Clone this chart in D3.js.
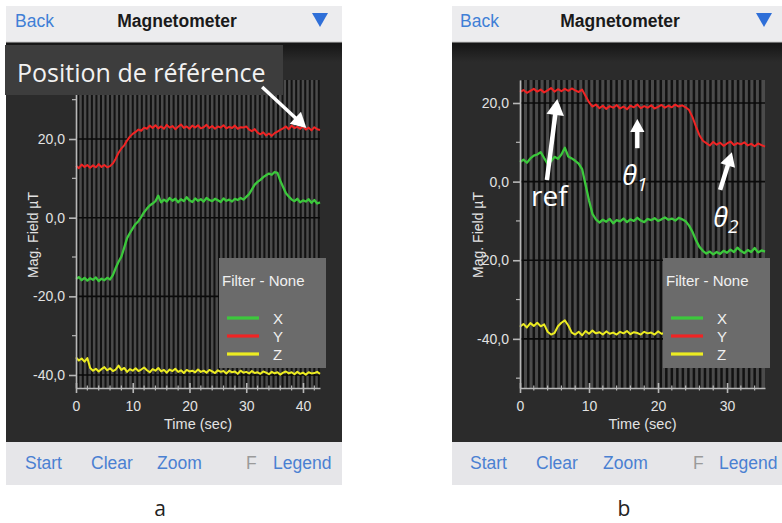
<!DOCTYPE html>
<html><head><meta charset="utf-8">
<script src="https://cdn.jsdelivr.net/npm/d3@7"></script>
<style>body{margin:0;background:#fff}</style>
</head><body><svg id="c" width="782" height="523"></svg>
<script>
// ---------------- DATA ----------------
const timeA = d3.range(0, 43.001, 0.5);
const xFieldA = [-15.6,-15.1,-15.9,-15.3,-16.0,-15.4,-15.8,-15.2,-16.1,-15.5,-15.9,-15.3,-15.7,
  -14.6,-12.8,-11.2,-9.9,-7.6,-5.2,-3.9,-2.7,-1.6,-0.9,0.2,1.4,2.3,3.1,
  3.6,4.2,5.6,3.9,4.6,4.1,5.0,4.3,4.8,3.9,4.7,4.2,5.2,4.4,4.0,4.9,4.3,4.7,4.1,5.0,4.5,4.2,4.8,4.4,4.0,4.9,4.3,4.6,4.1,4.8,4.5,5.0,4.6,5.3,
  6.0,7.2,8.4,9.1,9.6,10.3,10.8,11.2,10.9,11.6,11.4,9.4,
  7.8,6.2,5.4,4.6,4.2,4.8,3.9,4.4,4.1,4.7,3.8,4.5,3.6,3.9];
const yFieldA = [13.2,12.6,13.5,12.9,13.4,12.7,13.3,12.8,13.6,12.9,13.4,12.8,13.1,
  13.8,15.0,16.5,17.6,18.4,19.6,20.6,21.3,21.8,22.4,22.1,22.9,22.6,23.4,
  22.8,23.5,22.7,23.2,22.6,23.6,22.9,23.3,22.5,23.1,23.7,22.8,23.2,22.6,23.4,22.9,23.5,22.7,23.0,23.6,22.8,23.3,22.6,23.2,22.9,23.5,22.7,23.1,22.8,23.4,22.6,23.0,22.9,23.2,
  22.4,22.0,22.5,21.6,21.2,21.7,20.9,21.4,20.8,21.5,21.9,22.3,
  22.7,23.2,22.5,23.4,22.8,23.1,22.6,23.3,22.4,22.9,22.2,23.0,22.5,22.3];
const zFieldA = [-35.5,-36.3,-35.8,-36.6,-35.7,
  -38.2,-38.9,-38.4,-39.1,-38.5,-38.0,-38.8,-38.3,-39.0,-38.6,
  -37.6,-38.7,-38.2,-39.2,-38.5,-38.9,-38.3,-39.0,-38.6,-38.1,
  -38.8,-39.3,-38.5,-38.9,-38.2,-39.1,-38.7,-39.4,-38.6,-39.0,
  -38.4,-39.2,-38.8,-39.5,-38.7,-39.1,-38.9,-39.3,-38.6,-39.2,
  -38.9,-39.4,-38.7,-39.1,-39.5,-38.8,-39.2,-39.0,-39.6,-38.9,
  -39.3,-39.1,-39.7,-38.9,-39.4,-39.2,-39.6,-39.0,-39.5,-39.3,
  -39.7,-39.1,-39.4,-39.8,-39.2,-39.6,-39.3,-39.9,-39.4,-39.1,
  -39.6,-39.3,-39.8,-39.2,-39.7,-39.4,-39.9,-39.3,-39.6,-39.5,
  -39.2,-39.7];

const timeB = d3.range(0, 35.501, 0.5);
const xFieldB = [5.0,5.6,4.8,5.9,6.6,6.9,7.5,6.0,4.6,5.2,6.3,5.8,6.9,8.6,6.4,5.9,5.3,4.6,3.2,
  -0.8,-4.8,-8.2,-9.6,
  -10.4,-9.7,-10.2,-9.5,-10.6,-9.8,-10.1,-9.4,-10.3,-9.6,-10.0,-9.2,-9.9,-10.3,-9.5,-9.8,-9.3,-10.0,-9.6,-9.1,-9.7,-9.4,-9.9,-9.2,-9.6,-10.1,
  -11.2,-12.8,-14.9,-16.6,-17.6,
  -18.3,-17.8,-18.5,-17.9,-18.4,-17.6,-18.1,-17.3,-17.9,-16.8,-17.6,-18.2,-17.4,-17.9,-16.9,-18.0,-17.5,-17.8];
const yFieldB = [22.8,23.3,22.6,23.1,23.6,22.9,23.4,22.7,23.2,23.8,22.9,23.5,23.0,23.6,23.1,23.7,23.2,22.8,23.4,
  21.8,20.2,19.1,19.6,
  18.7,19.3,18.5,19.2,18.8,19.5,18.6,19.1,18.4,19.3,18.9,19.6,18.7,19.2,18.8,19.4,18.6,19.0,19.5,18.8,19.3,18.9,19.6,19.1,19.4,18.9,
  18.2,16.4,14.0,11.8,10.4,
  9.8,9.2,10.1,9.4,9.9,9.1,9.7,10.2,9.3,9.8,9.5,10.0,9.2,9.6,9.0,9.7,9.3,8.9];
const zFieldB = [-36.9,-36.2,-37.1,-36.0,-36.7,-35.9,-36.8,-36.3,
  -38.2,-38.9,-38.5,-36.8,-35.9,-35.3,-36.6,-38.4,
  -38.9,-38.2,-39.1,-38.0,-38.7,-37.9,-38.6,-38.3,-38.9,-38.1,
  -38.7,-38.4,-38.9,-38.2,-38.6,-38.0,-38.8,-38.3,-38.5,-38.9,
  -38.2,-38.6,-38.4,-38.9,-38.1,-38.7,-38.5,-38.8,-38.3,-38.6,
  -38.9,-38.4,-38.7,-38.2,-38.8,-38.5,-38.9,-38.3,-38.6,-38.8,
  -38.4,-38.7,-38.5,-38.9,-38.6,-38.8,-38.4,-38.7,-38.5,-38.9,
  -38.6,-38.8,-38.5,-38.7,-38.6,-38.8];

const seriesNames = ["X", "Y", "Z"];
const seriesColors = ["#3cc83c", "#f02424", "#ecec22"];
const yTickValues = [20, 0, -20, -40];
const xTickValuesA = [0, 10, 20, 30, 40];
const xTickValuesB = [0, 10, 20, 30];
const toolbarLabels = ["Start", "Clear", "Zoom", "F", "Legend"];
const headerTitle = "Magnetometer";
const panelLetters = ["a", "b"];

// ---------------- DRAW ----------------
const svg = d3.select("#c");
svg.append("rect").attr("width", 782).attr("height", 523).attr("fill", "#fff");
const defs = svg.append("defs");
const grad = defs.append("linearGradient").attr("id", "topband").attr("x1", 0).attr("y1", 0).attr("x2", 0).attr("y2", 1);
grad.append("stop").attr("offset", 0).attr("stop-color", "#141414");
grad.append("stop").attr("offset", 1).attr("stop-color", "#2b2b2b");

const loc = d3.formatLocale({decimal: ",", thousands: ".", grouping: [3], currency: ["", ""], minus: "-"});
const fmtY = loc.format(".1f");
const SANS = "'Liberation Sans', Arial, sans-serif";
const HUM = "'Open Sans', sans-serif";

function arrow(g, x1, y1, x2, y2, head, w) {
  const dx = x2 - x1, dy = y2 - y1, L = Math.hypot(dx, dy);
  const ux = dx / L, uy = dy / L, px = -uy, py = ux;
  const bx = x2 - ux * head, by = y2 - uy * head;
  g.append("line").attr("x1", x1).attr("y1", y1).attr("x2", bx + ux).attr("y2", by + uy)
    .attr("stroke", "#fff").attr("stroke-width", w);
  g.append("path").attr("d", `M${x2},${y2}L${bx + px * head * 0.55},${by + py * head * 0.55}L${bx - px * head * 0.55},${by - py * head * 0.55}Z`)
    .attr("fill", "#fff");
}

function panel(cfg) {
  const g = svg.append("g");
  const W = cfg.sx1 - cfg.sx0;
  // body
  g.append("rect").attr("x", cfg.sx0).attr("y", 42).attr("width", W).attr("height", 400).attr("fill", "#2b2b2b");
  g.append("rect").attr("x", cfg.sx0).attr("y", 42).attr("width", W).attr("height", 20).attr("fill", "url(#topband)");
  // header
  g.append("rect").attr("x", cfg.sx0).attr("y", 6).attr("width", W).attr("height", 36).attr("fill", "#ececee");
  g.append("line").attr("x1", cfg.sx0).attr("x2", cfg.sx1).attr("y1", 42).attr("y2", 42).attr("stroke", "#c8c8c8");
  g.append("text").attr("x", cfg.backX).attr("y", 27).attr("font-family", SANS).attr("font-size", 17.5)
    .attr("fill", "#3f7fd6").text("Back");
  g.append("text").attr("x", cfg.titleX).attr("y", 27).attr("text-anchor", "middle").attr("font-family", SANS)
    .attr("font-size", 17.5).attr("font-weight", "bold").attr("fill", "#1a1a1a").text(headerTitle);
  const tx = cfg.triX;
  g.append("path").attr("d", `M${tx - 8},13L${tx + 8},13L${tx},27Z`).attr("fill", "#2f6fd8");
  // toolbar
  g.append("rect").attr("x", cfg.sx0).attr("y", 442).attr("width", W).attr("height", 43).attr("fill", "#e6e6e9");
  toolbarLabels.forEach((t, i) => {
    g.append("text").attr("x", cfg.toolX[i]).attr("y", 469).attr("font-family", SANS).attr("font-size", 17.5)
      .attr("fill", t === "F" ? "#9a9a9a" : "#4a80d2").text(t);
  });

  // scales
  const x = d3.scaleLinear().domain(cfg.xDomain).range(cfg.xRange);
  const y = d3.scaleLinear().domain(cfg.yDomain).range([388, 80]);
  const xr = cfg.xRange;
  // plot background with stripes
  g.append("rect").attr("x", xr[0]).attr("y", 80).attr("width", xr[1] - xr[0]).attr("height", 308).attr("fill", "#4b4b4b");
  const sp = x(0.8) - x(0);
  g.append("g").selectAll("line").data(d3.range(0.4, cfg.xDomain[1], 0.8)).join("line")
    .attr("x1", d => x(d)).attr("x2", d => x(d)).attr("y1", 80).attr("y2", 388)
    .attr("stroke", "#121212").attr("stroke-width", sp * 0.45);
  // horizontal grid lines
  g.append("g").selectAll("line").data(yTickValues).join("line")
    .attr("x1", xr[0]).attr("x2", xr[1]).attr("y1", d => y(d)).attr("y2", d => y(d))
    .attr("stroke", "#0a0a0a").attr("stroke-width", 1.6);

  // series
  const line = d3.line().x((d, i) => x(cfg.time[i])).y(d => y(d));
  [cfg.X, cfg.Y, cfg.Z].forEach((s, k) => {
    g.append("path").attr("d", line(s)).attr("fill", "none").attr("stroke", seriesColors[k])
      .attr("stroke-width", k === 0 ? 2.3 : 2).attr("stroke-linejoin", "round");
  });

  // axes
  const axCol = "#b8b8b8";
  const xAx = g.append("g").attr("transform", "translate(0,388)")
    .call(d3.axisBottom(x).tickValues(cfg.xTicks).tickSizeOuter(0).tickSizeInner(5).tickPadding(8).tickFormat(d3.format("d")));
  xAx.select(".domain").attr("stroke", axCol).attr("stroke-width", 1.6);
  xAx.selectAll(".tick line").attr("stroke", axCol).attr("stroke-width", 1.6).attr("y1", -5).attr("y2", 5);
  xAx.selectAll(".tick text").attr("fill", "#e2e2e2").attr("font-family", SANS).attr("font-size", 14);
  xAx.append("g").selectAll("line").data(d3.range(2, cfg.xDomain[1], 2).filter(d => d % 10 !== 0)).join("line")
    .attr("x1", d => x(d)).attr("x2", d => x(d)).attr("y1", -2.5).attr("y2", 2.5).attr("stroke", axCol).attr("stroke-width", 1.2);

  const yAx = g.append("g").attr("transform", `translate(${xr[0]},0)`)
    .call(d3.axisLeft(y).tickValues(yTickValues).tickSizeOuter(0).tickSizeInner(7).tickPadding(4).tickFormat(fmtY));
  yAx.select(".domain").attr("stroke", axCol).attr("stroke-width", 1.6);
  yAx.selectAll(".tick line").attr("stroke", axCol).attr("stroke-width", 1.6);
  yAx.selectAll(".tick text").attr("fill", "#e2e2e2").attr("font-family", SANS).attr("font-size", 14);
  yAx.append("g").selectAll("line").data(d3.range(-50, 31, 10).filter(d => d % 20 !== 0 && d > cfg.yDomain[0] && d < cfg.yDomain[1])).join("line")
    .attr("x1", -4).attr("x2", 0).attr("y1", d => y(d)).attr("y2", d => y(d)).attr("stroke", axCol).attr("stroke-width", 1.2);

  g.append("text").attr("x", (xr[0] + xr[1]) / 2).attr("y", 429).attr("text-anchor", "middle")
    .attr("font-family", SANS).attr("font-size", 14.5).attr("fill", "#e2e2e2").text("Time (sec)");
  g.append("text").attr("transform", `translate(${cfg.yLabX},235) rotate(-90)`).attr("text-anchor", "middle")
    .attr("font-family", SANS).attr("font-size", 14).attr("fill", "#e2e2e2").text("Mag. Field \u00b5T");

  // legend
  const lx = cfg.legX;
  g.append("rect").attr("x", lx).attr("y", 258).attr("width", 107).attr("height", 110).attr("fill", "#6b6b6b");
  g.append("text").attr("x", lx + 3).attr("y", 286).attr("font-family", SANS).attr("font-size", 15)
    .attr("fill", "#f0f0f0").text("Filter - None");
  seriesNames.forEach((n, i) => {
    const yy = 318 + i * 18;
    g.append("line").attr("x1", lx + 8).attr("x2", lx + 40).attr("y1", yy).attr("y2", yy)
      .attr("stroke", seriesColors[i]).attr("stroke-width", 3.2);
    g.append("text").attr("x", lx + 54).attr("y", yy + 6).attr("font-family", SANS).attr("font-size", 15)
      .attr("fill", "#f0f0f0").text(n);
  });
  return {g, x, y};
}

const A = panel({sx0: 6, sx1: 342, backX: 15, titleX: 177, triX: 320,
  toolX: [25, 91, 157, 246, 273], time: timeA, X: xFieldA, Y: yFieldA, Z: zFieldA,
  xDomain: [0, 43], xRange: [76, 320], yDomain: [-43.3, 35.0], xTicks: xTickValuesA, yLabX: 38, legX: 219});

const B = panel({sx0: 452, sx1: 782, backX: 460, titleX: 620, triX: 764,
  toolX: [470, 536, 603, 693, 719], time: timeB, X: xFieldB, Y: yFieldB, Z: zFieldB,
  xDomain: [0, 35.5], xRange: [520, 765], yDomain: [-52.5, 25.85], xTicks: xTickValuesB, yLabX: 483, legX: 663});

// annotations panel a
A.g.append("rect").attr("x", 5).attr("y", 45).attr("width", 278).attr("height", 50).attr("fill", "#3d3d3d");
A.g.append("text").attr("x", 17).attr("y", 82).attr("font-family", HUM).attr("font-size", 25)
  .attr("fill", "#f2f2f2").text("Position de référence");
arrow(A.g, A.x(32.8), A.y(33.2), A.x(40.6), A.y(22.8), 15, 3.5);

// annotations panel b
arrow(B.g, B.x(3.9), B.y(0.4), B.x(5.4), B.y(21.0), 16, 4.5);
B.g.append("text").attr("x", B.x(1.6)).attr("y", B.y(-6.2)).attr("font-family", HUM).attr("font-size", 28)
  .attr("fill", "#fff").text("ref");
arrow(B.g, B.x(17.0), B.y(8.5), B.x(17.0), B.y(15.9), 13, 4.5);
const t1 = B.g.append("text").attr("x", B.x(14.8)).attr("y", B.y(-0.9)).attr("font-family", HUM)
  .attr("font-size", 27).attr("font-style", "italic").attr("fill", "#fff");
t1.append("tspan").text("\u03b8");
t1.append("tspan").attr("dy", 6).attr("font-size", 19).text("1");
arrow(B.g, B.x(29.0), B.y(-2.1), B.x(30.7), B.y(7.5), 14, 4.5);
const t2 = B.g.append("text").attr("x", B.x(28.0)).attr("y", B.y(-11.6)).attr("font-family", HUM)
  .attr("font-size", 27).attr("font-style", "italic").attr("fill", "#fff");
t2.append("tspan").text("\u03b8");
t2.append("tspan").attr("dy", 6).attr("font-size", 19).text("2");

// panel letters
svg.append("text").attr("x", 160).attr("y", 516).attr("text-anchor", "middle").attr("font-family", HUM)
  .attr("font-size", 21).attr("fill", "#222").text(panelLetters[0]);
svg.append("text").attr("x", 624).attr("y", 516).attr("text-anchor", "middle").attr("font-family", HUM)
  .attr("font-size", 21).attr("fill", "#222").text(panelLetters[1]);
</script></body></html>
